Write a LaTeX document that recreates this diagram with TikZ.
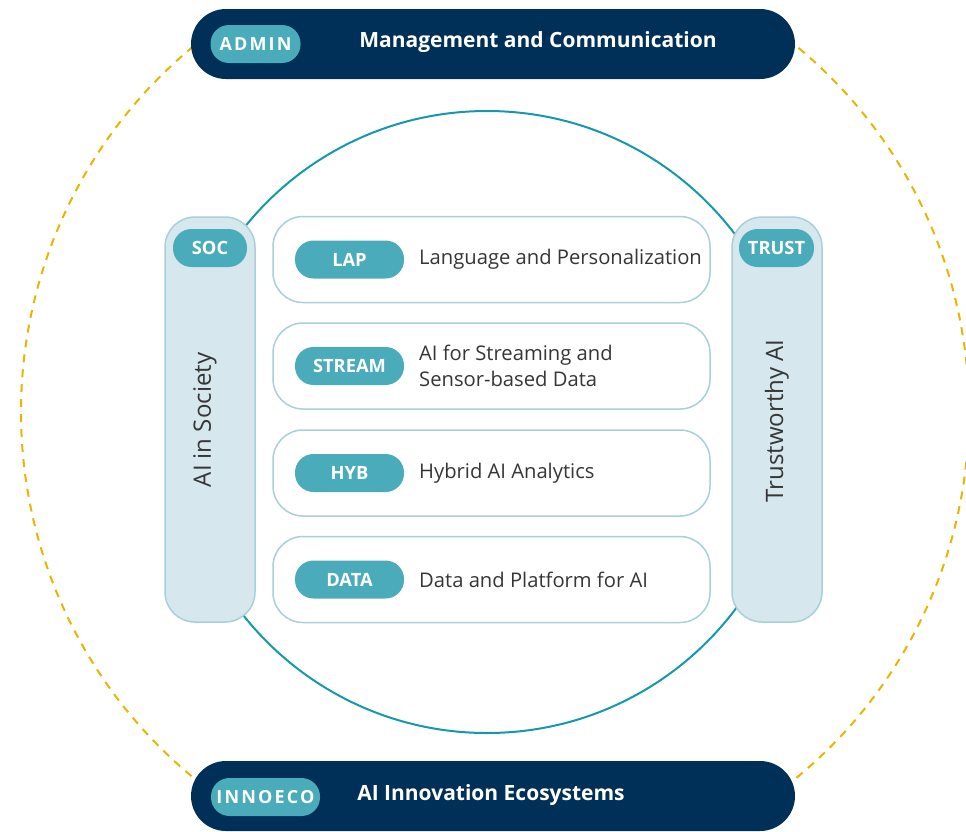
\documentclass[tikz,border=0pt]{standalone}
\usepackage{fontspec}
\setmainfont{Open Sans}
\definecolor{navy}{HTML}{003057}
\definecolor{tagteal}{HTML}{4AABBB}
\definecolor{ringteal}{HTML}{1499AC}
\definecolor{lanefill}{HTML}{D6E8EE}
\definecolor{laneline}{HTML}{A8D0DA}
\definecolor{ringgold}{HTML}{E8B500}
\definecolor{ink}{HTML}{363636}

\begin{document}
\begin{tikzpicture}[
    x = 1pt,
    y = -1pt,
    bar/.style = {fill=navy, rounded corners=35pt, minimum width=604pt,
      minimum height=70pt, inner sep=0pt},
    tag/.style = {fill=tagteal, text=white, rounded corners=18.5pt,
      minimum height=38pt, inner sep=0pt,
      font=\bfseries\fontsize{18.3}{20}\selectfont},
    spaced/.style = {font=\bfseries\addfontfeatures{LetterSpace=12}\fontsize{18}{20}\selectfont},
    lane/.style = {draw=laneline, line width=1.5pt, fill=white,
      rounded corners=30pt, minimum width=437pt, minimum height=86pt,
      inner sep=0pt},
    pillar/.style = {draw=laneline, line width=1.5pt, fill=lanefill,
      rounded corners=30pt, minimum width=90pt, minimum height=405pt,
      inner sep=0pt},
    body/.style = {text=ink, font=\fontsize{20.2}{26}\selectfont,
      anchor=west, align=left, inner sep=0pt},
    side/.style = {text=ink, font=\fontsize{24}{26}\selectfont,
      rotate=90, inner sep=0pt},
    title/.style = {text=white, font=\bfseries\fontsize{21}{24}\selectfont,
      inner sep=0pt},
    ring/.style = {ringgold, line width=2pt, dash pattern=on 8pt off 7pt},
    ]
  \useasboundingbox (0,0) rectangle (966,831);
  % outer ring, broken by the bars
  \draw[ring] (495,412) ++(-52:474) arc[start angle=-52, end angle=52, radius=474];
  \draw[ring] (495,412) ++(128:474) arc[start angle=128, end angle=232, radius=474];
  % inner ring
  \draw[ringteal, line width=2pt] (487,422) circle (311pt);
  % top bar
  \node[bar] (admin) at (493,44) {};
  \node[tag, spaced, minimum width=90pt] (admin-tag) at (255.5,44) {ADMIN};
  \node[title] (admin-text) at (538,42) {Management and Communication};
  % bottom bar
  \node[bar] (innoeco) at (493,796) {};
  \node[tag, spaced, minimum width=109pt] (innoeco-tag) at (265.5,797) {INNOECO};
  \node[title] (innoeco-text) at (491,795) {AI Innovation Ecosystems};
  % side pillars
  \node[pillar] (soc) at (210,419.5) {};
  \node[tag, minimum width=74pt] (soc-tag) at (210,248) {SOC};
  \node[side] (soc-text) at (205,420) {AI in Society};
  \node[pillar] (trust) at (777,419.5) {};
  \node[tag, minimum width=75pt] (trust-tag) at (776.5,248) {TRUST};
  \node[side] (trust-text) at (777,421) {Trustworthy AI};
  % lanes
  \foreach \name/\y/\abbr/\desc in {
      lap/259.5/LAP/Language and Personalization,
      stream/366/STREAM/{AI for Streaming and\\Sensor-based Data},
      hyb/473/HYB/Hybrid AI Analytics,
      data/579.5/DATA/Data and Platform for AI} {
    \node[lane] (\name) at (491.5,\y) {};
    \node[tag, minimum width=109pt] (\name-tag) at (349.5,\y) {\abbr};
    \node[body] (\name-text) at (419,\y) {\desc};
  }
\end{tikzpicture}
\end{document}
